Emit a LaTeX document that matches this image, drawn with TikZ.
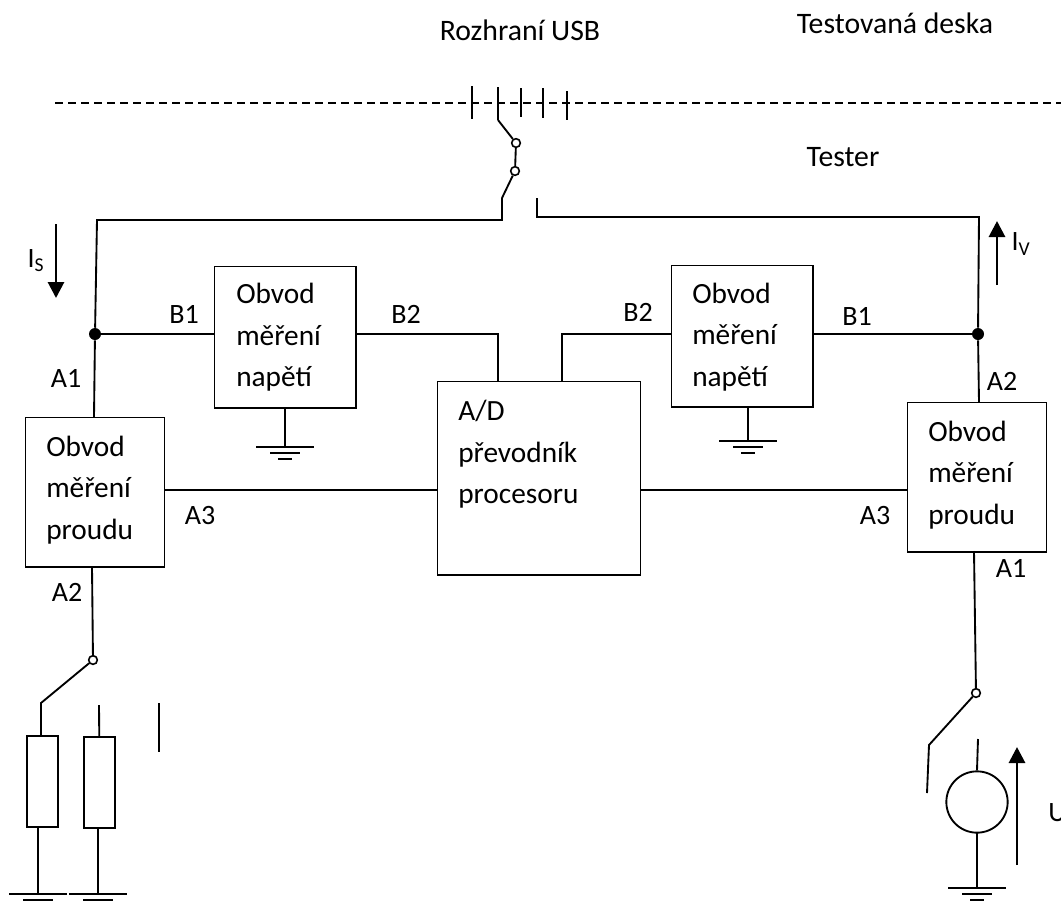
\documentclass[tikz,border=0pt]{standalone}
\usepackage{fontspec}
\setmainfont{Carlito}
\usetikzlibrary{arrows.meta}
\tikzset{
  blok/.style={draw,line width=1.1pt,anchor=north west,inner sep=0pt},
  popis/.style={inner sep=0pt,font=\fontsize{21}{24}\selectfont},
  nadpis/.style={inner sep=0pt,font=\fontsize{22.3}{26}\selectfont},
  text bloku/.style={inner sep=0pt,anchor=west,align=left,font=\fontsize{22}{31.2}\selectfont},
  vodic/.style={line width=1.4pt},
  kontakt/.style={circle,draw,line width=1.2pt,fill=white,inner sep=0pt,minimum size=6.5pt},
  uzel/.style={circle,fill=black,inner sep=0pt,minimum size=9pt},
  sipka/.style={line width=2.2pt,-{Triangle[length=12pt,width=12pt]}},
  rezistor/.style={draw,line width=1.4pt,anchor=north west,inner sep=0pt,minimum width=23pt,minimum height=68pt},
}
\newcommand{\zem}[3]{%
  \draw[vodic] (#1,#2) -- (#1,#3);
  \draw[vodic] (#1-29,#3) -- (#1+29,#3);
  \draw[vodic] (#1-15,#3+6) -- (#1+15,#3+6);
  \draw[vodic] (#1-7,#3+12) -- (#1+7,#3+12);
}
\begin{document}
\begin{tikzpicture}[x=0.75pt,y=0.75pt,yscale=-1,xscale=1]
\useasboundingbox (0,0) rectangle (1061,901);
%Bloky
\node[blok,minimum width=104pt,minimum height=112pt] (proudL) at (25,417) {};
\node[blok,minimum width=106pt,minimum height=106pt] (napetiL) at (214,266) {};
\node[blok,minimum width=152pt,minimum height=145pt] (prevodnik) at (437,381) {};
\node[blok,minimum width=106pt,minimum height=106pt] (napetiP) at (671,265) {};
\node[blok,minimum width=104pt,minimum height=112pt] (proudP) at (907,402) {};
%Texty v blocich
\node[text bloku] (tproudL) at (46,490) {Obvod\\měření\\proudu};
\node[text bloku] (tnapetiL) at (236,337.5) {Obvod\\měření\\napětí};
\node[text bloku] (tprevodnik) at (458,454.5) {A/D\\převodník\\procesoru};
\node[text bloku] (tnapetiP) at (692,337) {Obvod\\měření\\napětí};
\node[text bloku] (tproudP) at (928,475) {Obvod\\měření\\proudu};
%Uzly
\node[uzel] (uzelL) at (95,334) {};
\node[uzel] (uzelP) at (978,334) {};
%Vedeni nahore
\coordinate (rohL) at (97,220);
\coordinate (rohP) at (979,217);
\coordinate (spinL) at (502,220);
\coordinate (spinP) at (537,217);
\draw[vodic] (uzelL) -- (rohL) -- (spinL) -- (502,198);
\draw[vodic] (uzelP) -- (rohP) -- (spinP) -- (537,198);
\draw[vodic] (uzelL) -- (napetiL.west |- uzelL);
\draw[vodic] (uzelP) -- (napetiP.east |- uzelP);
\draw[vodic] (uzelL) -- (94,417);
\draw[vodic] (uzelP) -- (979,402);
\draw[vodic] (357,334) -- (498,334) -- (498,381);
\draw[vodic] (671,334) -- (562,334) -- (562,381);
\draw[vodic] (164,490) -- (437,490);
\draw[vodic] (640,490) -- (907,490);
%Rozhrani USB
\draw[line width=1.2pt,dash pattern=on 6pt off 3.75pt] (55,103) -- (1061,103);
\foreach \x/\yh/\yd in {472/86/119,498/87/120,521/88/117,543/88/118,567/91/120}
  \draw[vodic] (\x,\yh) -- (\x,\yd);
\node[kontakt] (kontaktA) at (516,143) {};
\node[kontakt] (kontaktB) at (515,171) {};
\draw[vodic] (498,120) -- (kontaktA);
\draw[vodic] (kontaktA) -- (kontaktB);
\draw[vodic] (kontaktB) -- (502,198);
%Zem u napeti
\zem{285}{407}{447}
\zem{748}{406}{441}
%Levy prepinac a rezistory
\node[kontakt] (kontaktC) at (93,660) {};
\draw[vodic] (92,567) -- (kontaktC);
\draw[vodic] (kontaktC) -- (41,703) -- (41,735);
\node[rezistor] (rezA) at (26,735) {};
\node[rezistor] (rezB) at (83,736) {};
\draw[vodic] (99,705) -- (rezB.north);
\zem{38}{826}{894}
\zem{98}{827}{894}
\draw[vodic] (159,703) -- (159,752);
%Pravy prepinac a zdroj
\node[kontakt] (kontaktD) at (976,693) {};
\draw[vodic] (974,551) -- (kontaktD);
\draw[vodic] (kontaktD) -- (929,745) -- (927,793);
\node[circle,draw,line width=1.4pt,inner sep=0pt,minimum size=46pt] (zdroj) at (977,802) {};
\draw[vodic] (978,739) -- (zdroj.north);
\zem{977}{832}{888}
%Sipky
\draw[sipka] (56,224) -- (56,298);
\draw[sipka] (997,285) -- (997,221);
\draw[sipka] (1017,865) -- (1017,747);
%Popisky
\node[nadpis] (usb) at (520,30) {Rozhraní USB};
\node[nadpis] (deska) at (895,23) {Testovaná deska};
\node[nadpis] (tester) at (843,157) {Tester};
\node[popis] (Is) at (36,261) {I\textsubscript{S}};
\node[popis] (Iv) at (1021,244) {I\textsubscript{V}};
\node[popis] (b1L) at (184,314) {B1};
\node[popis] (b2L) at (406,314) {B2};
\node[popis] (b2P) at (638,312) {B2};
\node[popis] (b1P) at (857,316) {B1};
\node[popis] (a1L) at (66,378) {A1};
\node[popis] (a3L) at (200,515) {A3};
\node[popis] (a2L) at (67,592) {A2};
\node[popis] (a2P) at (1002,381) {A2};
\node[popis] (a3P) at (875,515) {A3};
\node[popis] (a1P) at (1011,568) {A1};
\node[popis,anchor=west] (U) at (1048,813) {U};
\end{tikzpicture}
\end{document}
